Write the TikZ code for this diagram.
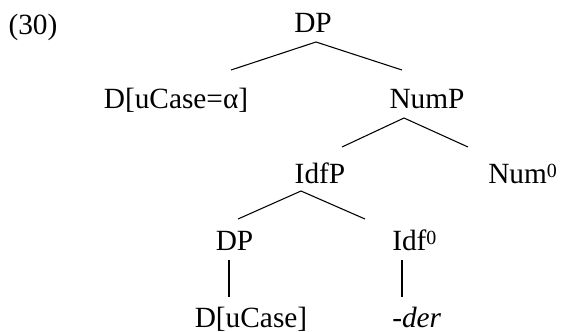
\documentclass[tikz,border=0pt]{standalone}
\usepackage{fontspec}
\setmainfont{Liberation Serif}
\newcommand{\supz}{\raisebox{4pt}{\fontsize{15}{17}\selectfont 0}}
\begin{document}
\begin{tikzpicture}[x=0.75pt,y=-0.75pt,
  lbl/.style={inner sep=0pt,anchor=base,font=\fontsize{22}{26}\selectfont},
  lblw/.style={lbl,anchor=base west},
  branch/.style={line width=0.8pt,black}]
\useasboundingbox (0,0) rectangle (561,332);
% labels
\node[lbl] (ex) at (33,34) {(30)};
\node[lbl] (dp) at (313,32) {DP};
\node[lbl] (dcase) at (176,108) {D[uCase=α]};
\node[lbl] (nump) at (427,108) {NumP};
\node[lbl] (idfp) at (320,183) {IdfP};
\node[lblw] (num) at (488,183) {Num\supz};
\node[lbl] (dp2) at (234.5,250) {DP};
\node[lblw] (idf) at (392,250) {Idf\supz};
\node[lbl] (duc) at (251,327) {D[uCase]};
\node[lblw] (der) at (392,327) {-\textit{der}};
% branch points
\coordinate (a1) at (316,42);
\coordinate (l1) at (231,70);
\coordinate (r1) at (402,70);
\coordinate (a2) at (404,118);
\coordinate (l2) at (342,147);
\coordinate (r2) at (468,147);
\coordinate (a3) at (301,191);
\coordinate (l3) at (238,219);
\coordinate (r3) at (365,219);
\coordinate (t4) at (229,260);
\coordinate (b4) at (229,297);
\coordinate (t5) at (402,260);
\coordinate (b5) at (402,297);
\draw[branch] (l1) -- (a1) -- (r1);
\draw[branch] (l2) -- (a2) -- (r2);
\draw[branch] (l3) -- (a3) -- (r3);
\draw[branch] (t4) -- (b4);
\draw[branch] (t5) -- (b5);
\end{tikzpicture}
\end{document}
